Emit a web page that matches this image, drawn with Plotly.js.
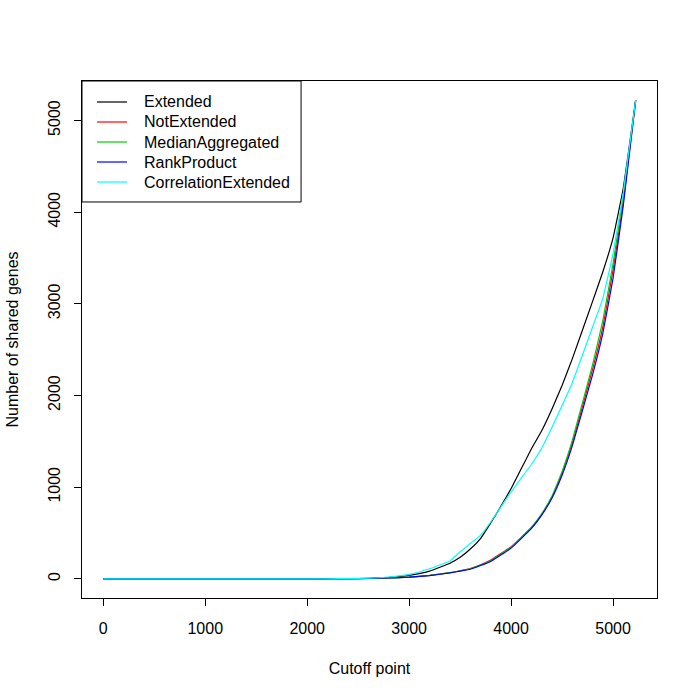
<!DOCTYPE html>
<html>
<head>
<meta charset="utf-8">
<script src="https://cdn.plot.ly/plotly-3.0.1.min.js"></script>
<style>
  html, body { margin: 0; padding: 0; background: #fff; }
  #chart { width: 700px; height: 700px; }
</style>
</head>
<body>
<div id="chart"></div>
<script>
// cutoff points (x) shared by all series
var cutoff = [0, 500, 1000, 1500, 2000, 2200, 2400, 2600, 2800, 3000, 3200, 3400, 3500, 3600, 3700, 3800, 4000, 4200, 4300, 4400, 4500, 4600, 4800, 4900, 5000, 5100, 5222];

var extended            = [0, 0, 0, 0, 0, 1, 2, 6, 16, 38, 85, 170, 235, 325, 440, 610, 985, 1420, 1615, 1850, 2110, 2400, 3030, 3350, 3720, 4260, 5222];
var notExtended         = [0, 0, 0, 0, 0, 1, 2, 4, 9, 19, 37, 67, 88, 112, 153, 205, 350, 560, 705, 890, 1160, 1480, 2290, 2750, 3370, 4110, 5222];
var medianAggregated    = [0, 0, 0, 0, 0, 1, 2, 4, 9, 19, 37, 67, 88, 110, 150, 198, 345, 565, 710, 900, 1170, 1510, 2340, 2820, 3440, 4180, 5222];
var rankProduct         = [0, 0, 0, 0, 0, 1, 2, 4, 9, 18, 36, 65, 85, 105, 145, 190, 335, 550, 695, 880, 1130, 1450, 2230, 2680, 3280, 4070, 5222];
var correlationExtended = [0, 0, 0, 0, 0, 1, 2, 7, 20, 48, 110, 195, 295, 385, 475, 620, 950, 1250, 1425, 1650, 1890, 2140, 2750, 3060, 3550, 4210, 5222];

var names  = ["Extended", "NotExtended", "MedianAggregated", "RankProduct", "CorrelationExtended"];
var series = [extended, notExtended, medianAggregated, rankProduct, correlationExtended];
var colors = ["#000000", "#FF0000", "#00CD00", "#0000FF", "#00FFFF"];

var xTicks = [0, 1000, 2000, 3000, 4000, 5000];
var yTicks = [0, 1000, 2000, 3000, 4000, 5000];

var font = {family: '"Liberation Sans", Arial, Helvetica, sans-serif', size: 16, color: '#000'};

var traces = [];
for (var i = 0; i < series.length; i++) {
	traces.push({
		x: cutoff,
		y: series[i],
		name: names[i],
		type: 'scatter',
		mode: 'lines',
		line: {color: colors[i], width: 1.2, shape: 'spline', smoothing: 0.3}
	});
}

// legend drawn by hand, R style (box in top-left corner of the plot)
var shapes = [{
	type: 'rect', xref: 'paper', yref: 'paper',
	x0: 0, x1: 0.381, y0: 0.766, y1: 1,
	line: {color: '#000', width: 1}, fillcolor: '#fff', layer: 'above'
}];
var annotations = [];
var rowY = [0.9594, 0.9207, 0.8820, 0.8433, 0.8046];
for (var i = 0; i < names.length; i++) {
	shapes.push({
		type: 'line', xref: 'paper', yref: 'paper',
		x0: 0.0261, x1: 0.0783, y0: rowY[i], y1: rowY[i],
		line: {color: colors[i], width: 1.2}, layer: 'above'
	});
	annotations.push({
		xref: 'paper', yref: 'paper', x: 0.1035, y: rowY[i],
		xanchor: 'left', yanchor: 'middle', showarrow: false,
		text: names[i], font: font
	});
}

var layout = {
	width: 700,
	height: 700,
	margin: {l: 82, r: 43, t: 81, b: 102},
	paper_bgcolor: '#fff',
	plot_bgcolor: '#fff',
	font: font,
	showlegend: false,
	shapes: shapes,
	annotations: annotations,
	xaxis: {
		range: [-209, 5431],
		tickvals: xTicks,
		ticktext: xTicks.map(String),
		ticks: 'outside', ticklen: 7, tickcolor: '#000', tickwidth: 1,
		showline: true, mirror: true, linecolor: '#000', linewidth: 1,
		showgrid: false, zeroline: false,
		ticklabelstandoff: 9,
		title: {text: 'Cutoff point', font: font, standoff: 26}
	},
	yaxis: {
		range: [-209, 5431],
		tickvals: yTicks,
		ticktext: yTicks.map(String),
		tickangle: -90,
		ticks: 'outside', ticklen: 7, tickcolor: '#000', tickwidth: 1,
		showline: true, mirror: true, linecolor: '#000', linewidth: 1,
		showgrid: false, zeroline: false,
		ticklabelstandoff: 8,
		title: {text: 'Number of shared genes', font: font, standoff: 22}
	}
};

Plotly.newPlot('chart', traces, layout, {displayModeBar: false, staticPlot: true});
</script>
</body>
</html>
